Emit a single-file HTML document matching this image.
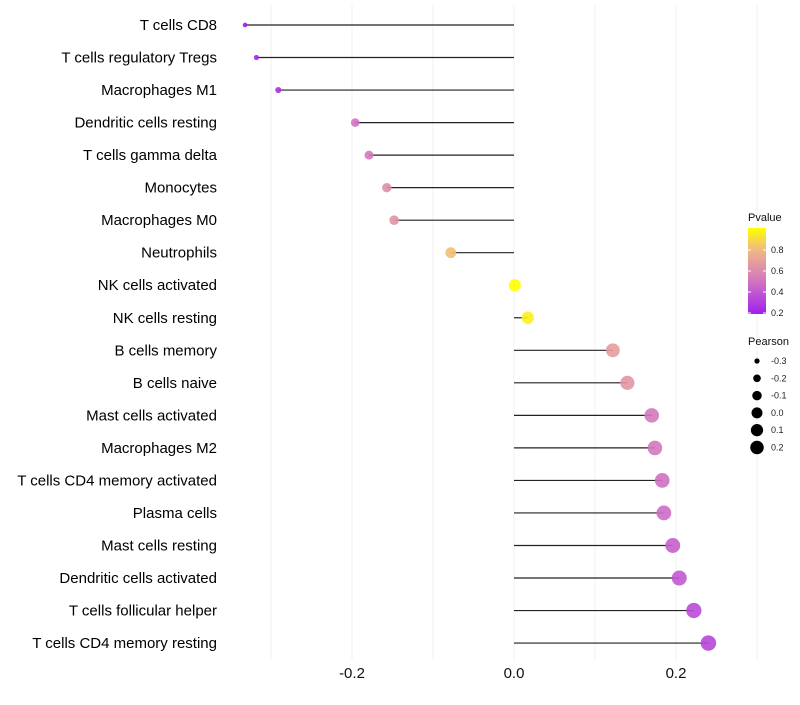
<!DOCTYPE html>
<html><head><meta charset="utf-8"><style>
body{margin:0;background:#fff;font-family:"Liberation Sans",sans-serif}
</style></head><body>
<svg id="chart" width="800" height="700" xmlns="http://www.w3.org/2000/svg" font-family="Liberation Sans, sans-serif" style="white-space:pre"></svg>
<script>
const categories=["T cells CD8","T cells regulatory  Tregs ","Macrophages M1","Dendritic cells resting","T cells gamma delta","Monocytes","Macrophages M0","Neutrophils","NK cells activated","NK cells resting","B cells memory","B cells naive","Mast cells activated","Macrophages M2","T cells CD4 memory activated","Plasma cells","Mast cells resting","Dendritic cells activated","T cells follicular helper","T cells CD4 memory resting"];
const pearson=[-0.332,-0.318,-0.291,-0.196,-0.179,-0.157,-0.148,-0.078,0.001,0.017,0.122,0.140,0.170,0.174,0.183,0.185,0.196,0.204,0.222,0.240];
const pvalue=[0.15,0.18,0.22,0.48,0.50,0.60,0.62,0.82,1.0,0.96,0.67,0.64,0.50,0.50,0.47,0.45,0.40,0.38,0.32,0.30];
const xTicks=[-0.2,0,0.2];
const xTickLabels=["-0.2","0.0","0.2"];
const gridVals=[-0.3,-0.2,-0.1,0,0.1,0.2,0.3];
const pLegend=[0.2,0.4,0.6,0.8];
const sLegend=[-0.3,-0.2,-0.1,0.0,0.1,0.2];
const svg=document.getElementById('chart');
const NS='http://www.w3.org/2000/svg';
function mk(t,a,p){const e=document.createElementNS(NS,t);for(const k in a)e.setAttribute(k,a[k]);(p||svg).appendChild(e);return e;}
const xS=v=>514+v*810;
const yS=i=>25+i*32.53;
const rS=v=>Math.sqrt(Math.max(1,5.5+(v+0.332)*95));
function col(p){
  const stops=[[0.15,[160,32,240]],[0.5,[212,120,190]],[0.8,[240,185,130]],[1.0,[255,255,0]]];
  p=Math.max(0.15,Math.min(1,p));
  for(let i=0;i<stops.length-1;i++){const[a,ca]=stops[i],[b,cb]=stops[i+1];
    if(p<=b){const t=(p-a)/(b-a);return 'rgb('+ca.map((c,j)=>Math.round(c+(cb[j]-c)*t)).join(',')+')';}}
  return 'rgb(255,255,0)';
}
gridVals.forEach(v=>{const g=mk('line',{x1:xS(v),x2:xS(v),y1:5,y2:660,stroke:'#f2f2f2','stroke-width':1});
});
xTicks.forEach((v,i)=>{const t=mk('text',{x:xS(v),y:678,'text-anchor':'middle','font-size':15,fill:'#111'});t.textContent=xTickLabels[i];
});
categories.forEach((c,i)=>{
  const t=mk('text',{x:217,y:yS(i)+5,'text-anchor':'end','font-size':15,fill:'#000'});t.textContent=c;
  
  const l=mk('line',{x1:xS(0),x2:xS(pearson[i]),y1:yS(i),y2:yS(i),stroke:'#222','stroke-width':1.2});
  
  const d=mk('circle',{cx:xS(pearson[i]),cy:yS(i),r:rS(pearson[i]),fill:col(pvalue[i]),'fill-opacity':0.9});
  
});
const pt=mk('text',{x:748,y:221,'font-size':11,fill:'#111'});pt.textContent='Pvalue';

const defs=mk('defs',{});const gr=mk('linearGradient',{id:'pg',x1:0,y1:1,x2:0,y2:0},defs);
[[0,0.15],[0.4,0.5],[0.75,0.8],[1,1]].forEach(([o,p])=>mk('stop',{offset:o,'stop-color':col(p)},gr));
const pyS=p=>313-(p-0.2)*105;
const bar=mk('rect',{x:748,y:228,width:18,height:86,fill:'url(#pg)'});

pLegend.forEach(p=>{mk('line',{x1:748,x2:751,y1:pyS(p),y2:pyS(p),stroke:'#fff'});mk('line',{x1:763,x2:766,y1:pyS(p),y2:pyS(p),stroke:'#fff'});
const t=mk('text',{x:771,y:pyS(p)+3,'font-size':9,fill:'#222'});t.textContent=p.toFixed(1);
});
const st=mk('text',{x:748,y:345,'font-size':11,fill:'#111'});st.textContent='Pearson';

sLegend.forEach((v,i)=>{const y=361+i*17.3;
const c=mk('circle',{cx:757,cy:y,r:rS(v)*0.9,fill:'#000'});

const t=mk('text',{x:771,y:y+3,'font-size':9,fill:'#222'});t.textContent=v.toFixed(1);
});
</script>
</body></html>
